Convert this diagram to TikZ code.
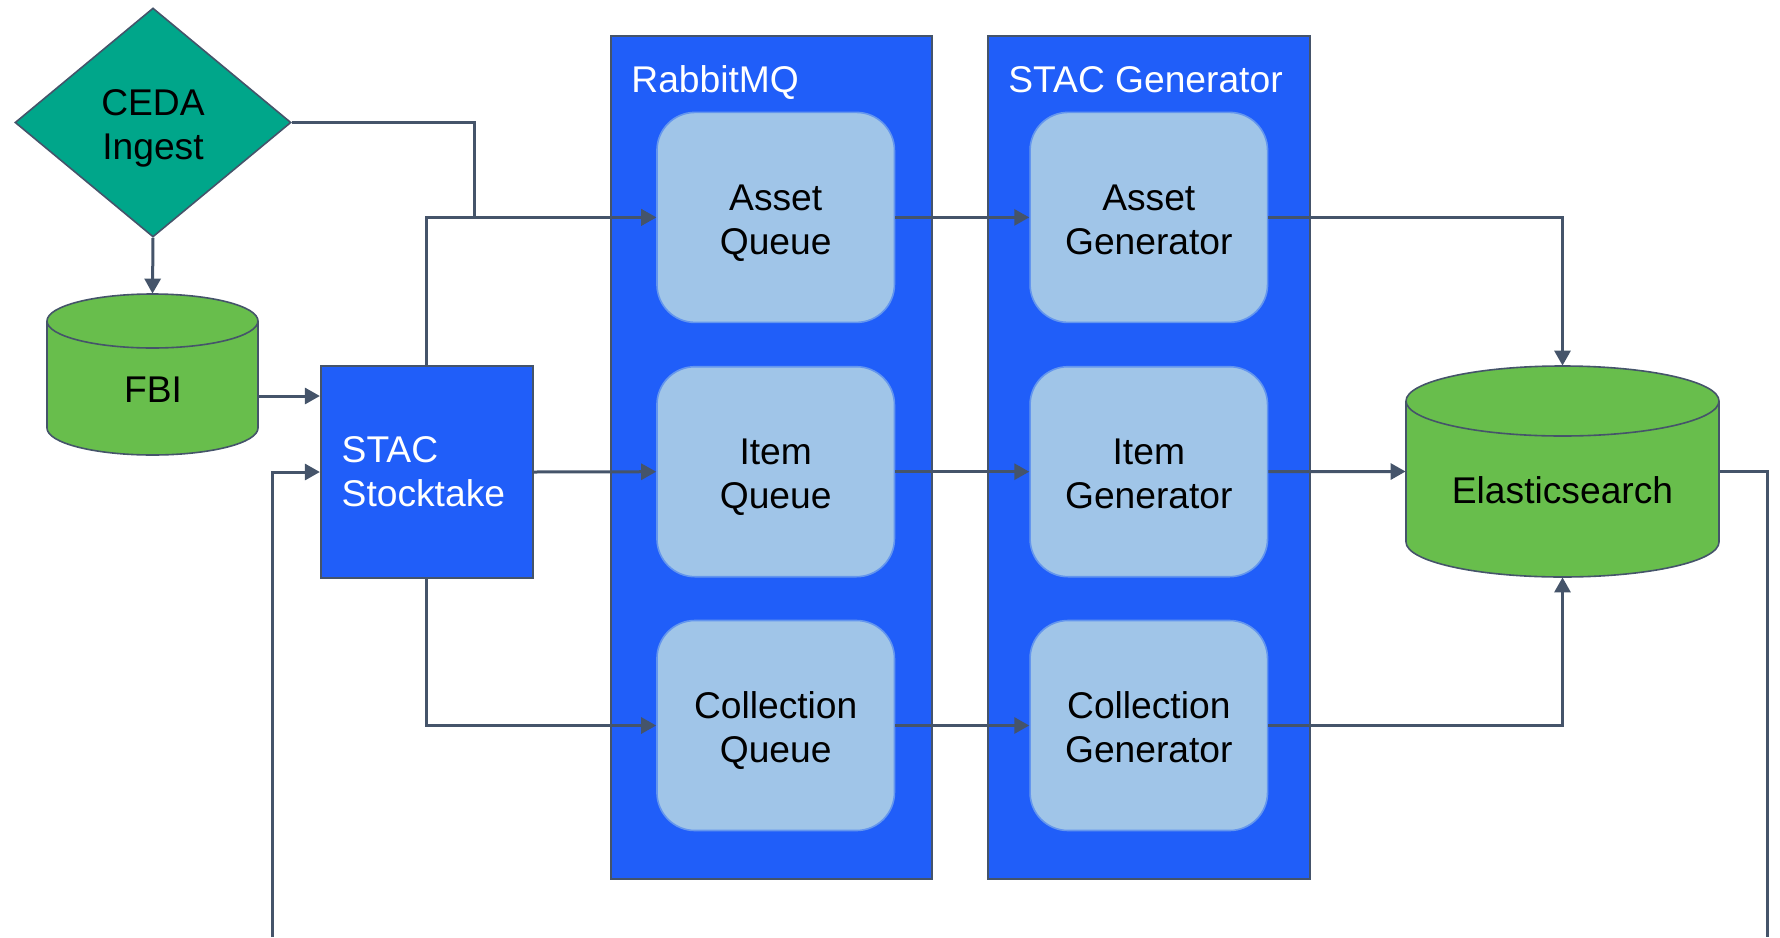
\documentclass[tikz,border=0pt]{standalone}
\usepackage{fontspec}
\setmainfont{Liberation Sans}
\usetikzlibrary{shapes.geometric,arrows.meta}
\definecolor{lineC}{RGB}{69,84,106}
\definecolor{blueC}{RGB}{32,94,249}
\definecolor{boxC}{RGB}{160,197,232}
\definecolor{boxE}{RGB}{100,150,238}
\definecolor{greenC}{RGB}{104,190,76}
\definecolor{tealC}{RGB}{0,166,138}
\tikzset{
  txt/.style={font=\fontsize{18.6pt}{22pt}\selectfont, align=center},
  container/.style={draw=lineC, line width=0.8pt, fill=blueC, inner sep=0pt},
  qbox/.style={draw=boxE, line width=0.8pt, fill=boxC, rounded corners=19pt, minimum width=118.75pt, minimum height=105pt, inner sep=0pt},
  intext/.style={txt, yshift=-2.95pt, inner sep=0pt},
  conn/.style={draw=lineC, line width=1.5pt},
  arr/.style={conn, -{Triangle[length=7.5pt,width=8pt]}},
  ghost/.style={inner sep=0pt, draw=none}
}
\begin{document}
\begin{tikzpicture}[x=0.5pt, y=-0.5pt]
\useasboundingbox (0,0) rectangle (1780,937);
% containers
\node[container, minimum width=160.5pt, minimum height=421.5pt] (rmq) at (771.5,457.5) {};
\node[container, minimum width=161pt, minimum height=421.5pt] (sgen) at (1149,457.5) {};
\node[txt, text=white, anchor=base west, inner sep=0pt] (rmqt) at (631,92.7) {RabbitMQ};
\node[txt, text=white, anchor=base west, inner sep=0pt] (sgent) at (1008,92.7) {STAC Generator};
% queues
\node[qbox, label={[intext]center:{\strut Asset\\Queue\strut}}] (aq) at (775.7,217.4) {};
\node[qbox, label={[intext]center:{\strut Item\\Queue\strut}}] (iq) at (775.7,471.7) {};
\node[qbox, label={[intext]center:{\strut Collection\\Queue\strut}}] (cq) at (775.7,725.5) {};
\node[qbox, label={[intext]center:{\strut Asset\\Generator\strut}}] (ag) at (1148.8,217.4) {};
\node[qbox, label={[intext]center:{\strut Item\\Generator\strut}}] (ig) at (1148.8,471.7) {};
\node[qbox, label={[intext]center:{\strut Collection\\Generator\strut}}] (cg) at (1148.8,725.5) {};
% CEDA diamond
\node[diamond, draw=lineC, line width=0.8pt, fill=tealC, minimum width=138pt, minimum height=114.5pt, inner sep=0pt, label={[txt, yshift=-2.8pt, inner sep=0pt]center:{CEDA\\Ingest}}] (ceda) at (153,122.5) {};
% FBI cylinder
\node[ghost, minimum width=105.5pt, minimum height=80.5pt] (fbi) at (152.5,374.5) {};
\draw[draw=lineC, line width=0.8pt, fill=greenC] (47,321) -- (47,428) arc[start angle=180, end angle=360, x radius=52.75pt, y radius=13.5pt] -- (258,321) arc[start angle=0, end angle=180, x radius=52.75pt, y radius=13.5pt] -- cycle;
\draw[draw=lineC, line width=0.8pt] (47,321) arc[start angle=180, end angle=360, x radius=52.75pt, y radius=13.5pt];
\node[txt] (fbit) at (153,390) {FBI};
% Elasticsearch cylinder
\node[ghost, minimum width=156.5pt, minimum height=105.5pt] (es) at (1562.5,471.5) {};
\draw[draw=lineC, line width=0.8pt, fill=greenC] (1406,401) -- (1406,542) arc[start angle=180, end angle=360, x radius=78.25pt, y radius=17.5pt] -- (1719,401) arc[start angle=0, end angle=180, x radius=78.25pt, y radius=17.5pt] -- cycle;
\draw[draw=lineC, line width=0.8pt] (1406,401) arc[start angle=180, end angle=360, x radius=78.25pt, y radius=17.5pt];
\node[txt] (est) at (1562.5,490) {Elasticsearch};
% STAC Stocktake
\node[draw=lineC, line width=0.8pt, fill=blueC, minimum width=106pt, minimum height=106pt, inner xsep=10.5pt, inner ysep=0pt, text width=85pt, align=left, text=white, font=\fontsize{18.6pt}{22pt}\selectfont] (st) at (426.7,472) {STAC\\Stocktake};
% free ends
\coordinate (fbL) at (272,937);
\coordinate (fbR) at (1767,937);
% connectors
\draw[arr] (ceda.south) -- (fbi.north);
\draw[arr] (fbi.east |- 0,396) -- (st.west |- 0,396);
\draw[arr] (ceda.east) -| (474,217.4) -- (aq.west);
\draw[arr] (st.north) |- (aq.west);
\draw[arr] (st.east) -- (iq.west);
\draw[arr] (st.south) |- (cq.west);
\draw[arr] (aq.east) -- (ag.west);
\draw[arr] (iq.east) -- (ig.west);
\draw[arr] (cq.east) -- (cg.west);
\draw[arr] (ag.east) -| (es.north);
\draw[arr] (ig.east) -- (es.west);
\draw[arr] (cg.east) -| (es.south);
\draw[arr] (fbL) |- (st.west);
\draw[conn] (es.east) -| (fbR);
\end{tikzpicture}
\end{document}
